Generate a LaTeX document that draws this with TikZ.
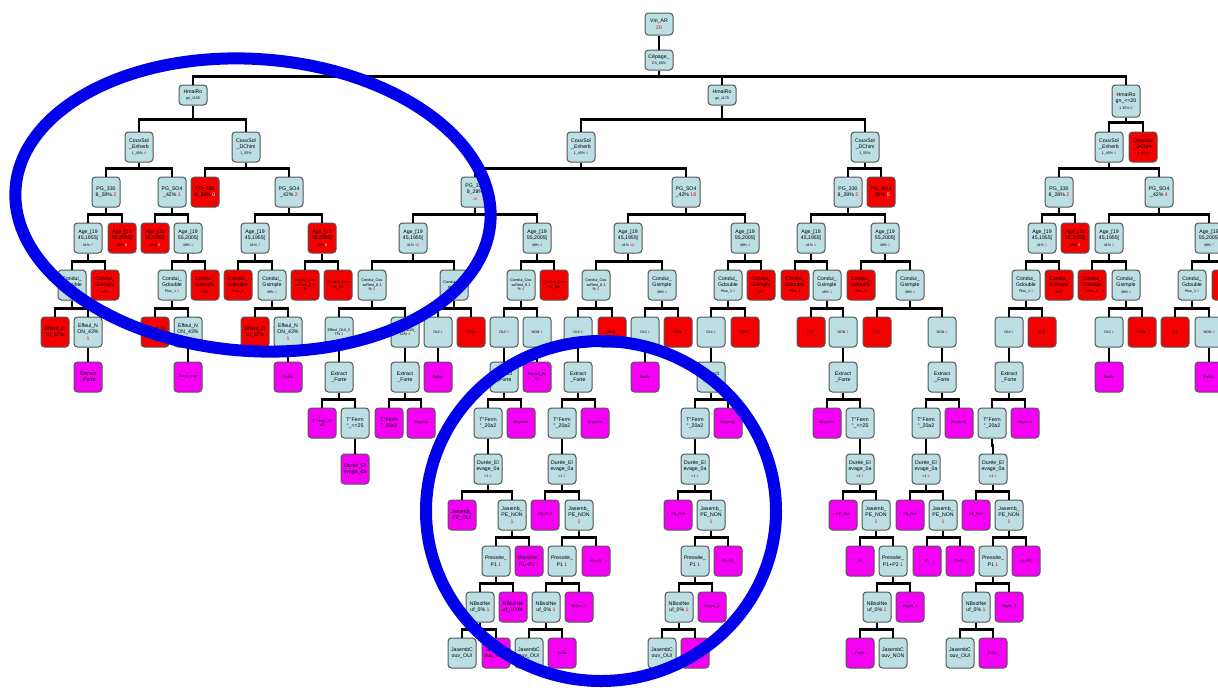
\documentclass[tikz,border=0pt]{standalone}
\usepackage{fontspec}
\setmainfont{Liberation Sans}
\definecolor{nbc}{RGB}{188,223,228}
\definecolor{nrc}{RGB}{245,0,0}
\definecolor{npc}{RGB}{245,0,245}
\definecolor{ringc}{RGB}{0,0,235}
\definecolor{bdc}{RGB}{85,85,85}
\newcommand\sm[1]{{\fontsize{3.6}{4.2}\selectfont #1}}
\newcommand\R[1]{\textcolor{red}{#1}}
\newcommand\W[1]{\textcolor{white}{#1}}
\newcommand\ly[1]{\ifcase#1 24\or 60\or 95\or 147\or 192\or 238\or 285\or 332\or 377\or 423\or 469\or 515\or 561\or 607\or 653\fi}
\newcommand\nd[4]{\node[#1] (n#2x#3) at (#3,\ly{#2}) {#4};}
\newcommand\fk[3][8]{\foreach \c in {#3}{\draw[edge] (n#2.south) |- ([yshift=#1pt]n\c.north) -- (n\c.north);}}
\newcommand\tEn{CouvSol\\\_Enherb\\\sm{1\_45\% \R{4}}}
\newcommand\tDC{CouvSol\\\_DChim\\\sm{1\_55\%}}
\newcommand\tPGa[1]{PG\_330\\8\_28\% #1}
\newcommand\tPGb[1]{PG\_SO4\\\_42\% #1}
\newcommand\tAa[1]{Age\_[19\\45,1955[\\\sm{41\% #1}}
\newcommand\tAb[1]{Age\_[19\\55,2005[\\\sm{49\% #1}}
\newcommand\tGd[1]{Condui\_\\Gdouble\\\sm{Plus\_1 #1}}
\newcommand\tGs[1]{Condui\_\\Gsimple\\\sm{48\% #1}}
\newcommand\tCR[1]{Condui\_Cou\\ssRest\_0.1\\\% #1}
\newcommand\tCt{Condui\_Cou\\rtu\_4\%}
\newcommand\tEO{Effeul\_O\\UI\_57\%}
\newcommand\tEN[1]{Effeul\_N\\ON\_43\%\\#1}
\newcommand\tO[1]{\sm{OUI #1}}
\newcommand\tN[1]{\sm{NON #1}}
\newcommand\tX{Extract\\\_Forte}
\newcommand\tF{\sm{Faible}}
\newcommand\tM{\sm{Moyenne}}
\newcommand\tTF{T°Ferm\\°\_20a2}
\newcommand\tTV{T°Ferm\\°\_<=25}
\newcommand\tD{Durée\_El\\evage\_0a\\\sm{<1 \R{1}}}
\newcommand\tJO{Jasemb\_\\PE\_OUI}
\newcommand\tJN{Jasemb\_\\PE\_NON\\\R{1}}
\newcommand\tPa{Pressée\_\\P1 \R{1}}
\newcommand\tPb{Pressée\_\\P1+P2 \R{1}}
\newcommand\tNa{NBsolNe\\uf\_0\% \R{1}}
\newcommand\tNb{NBsolNe\\uf\_100\%}
\newcommand\tCO{JasembC\\ouv\_OUI}
\newcommand\tCN{JasembC\\ouv\_NON}
\begin{document}
\begin{tikzpicture}[x=1pt,y=-1pt,
  nb/.style={draw=bdc, line width=1pt, rounded corners=3.5pt, fill=nbc,
    minimum width=28pt, minimum height=30pt, inner sep=0.3pt, align=center,
    font=\fontsize{5.2}{6.4}\selectfont},
  nr/.style={nb, fill=nrc},
  np/.style={nb, fill=npc},
  tiny/.style={font=\fontsize{3.8}{4.6}\selectfont},
  edge/.style={line width=2.6pt, black},
  ring/.style={draw=ringc, line width=12pt}]
\useasboundingbox (0,0) rectangle (1218,689);
\clip (0,0) rectangle (1218,689);
\fill[white] (0,0) rectangle (1218,689);
% levels 0-3
\nd{nb,minimum height=22pt}{0}{659}{Vin\_AR\\\R{20}}
\nd{nb,minimum height=20pt}{1}{659}{Cépage\_\\\sm{CS\_65\%}}
\nd{nb,minimum height=20pt}{2}{193}{HmaiRo\\\sm{gn\_1150}}
\nd{nb,minimum height=20pt}{2}{722}{HmaiRo\\\sm{gn\_1170}}
\node[nb,minimum height=32pt] (n2x1126) at (1126,101) {HmaiRo\\gn\_<=20\\\sm{1 35\% \R{8}}};
\nd{nb}{3}{139}{\tEn}
\nd{nb}{3}{246}{\tDC}
\nd{nb}{3}{581}{\tEn}
\nd{nb}{3}{865}{\tDC}
\nd{nb}{3}{1109}{\tEn}
\nd{nr}{3}{1143}{\tDC}
% level 4
\nd{nb}{4}{106}{\tPGa{\R{2}}}
\nd{nb}{4}{172}{\tPGb{\R{1}}}
\nd{nr}{4}{205}{\tPGa{\W{0}}}
\nd{nb}{4}{289}{\tPGb{\R{2}}}
\nd{nb}{4}{475}{\tPGa{}\\\sm{\R{19}}}
\nd{nb}{4}{686}{\tPGb{\R{18}}}
\nd{nb}{4}{848}{\tPGa{\R{2}}}
\nd{nr}{4}{881}{\tPGb{\W{0}}}
\nd{nb}{4}{1059}{\tPGa{\R{2}}}
\nd{nb}{4}{1159}{\tPGb{\R{4}}}
% level 5
\nd{nb}{5}{88}{\tAa{\R{7}}}
\nd{nr}{5}{122}{\tAb{\W{0}}}
\nd{nr}{5}{155}{\tAa{\W{0}}}
\nd{nb}{5}{188}{\tAb{\R{1}}}
\nd{nb}{5}{255}{\tAa{\R{7}}}
\nd{nr}{5}{322}{\tAb{\W{0}}}
\nd{nb}{5}{413}{\tAa{\R{15}}}
\nd{nb}{5}{537}{\tAb{\R{4}}}
\nd{nb}{5}{628}{\tAa{\R{14}}}
\nd{nb}{5}{745}{\tAb{\R{4}}}
\nd{nb}{5}{811}{\tAa{\R{1}}}
\nd{nb}{5}{885}{\tAb{\R{1}}}
\nd{nb}{5}{1042}{\tAa{\R{1}}}
\nd{nr}{5}{1075}{\tAb{\W{0}}}
\nd{nb}{5}{1109}{\tAa{\R{1}}}
\nd{nb}{5}{1209}{\tAb{\R{7}}}
% level 6
\nd{nb}{6}{72}{\tGd{\R{1}}}
\nd{nr}{6}{105}{\tGs{}}
\nd{nb}{6}{172}{\tGd{\R{1}}}
\nd{nr}{6}{205}{\tGs{}}
\nd{nr}{6}{238}{\tGd{}}
\nd{nb}{6}{272}{\tGs{\R{1}}}
\nd{nr,tiny}{6}{305}{\tCR{}}
\nd{nr,tiny}{6}{338}{\tCt}
\nd{nb,tiny}{6}{372}{\tCR{\R{3}}}
\nd{nb,tiny}{6}{454}{\tCt}
\nd{nb,tiny}{6}{521}{\tCR{\R{4}}}
\nd{nr,tiny}{6}{554}{\tCt}
\nd{nb,tiny}{6}{596}{\tCR{\R{3}}}
\nd{nb}{6}{662}{\tGs{\R{1}}}
\nd{nb}{6}{728}{\tGd{\R{1}}}
\nd{nr}{6}{761}{\tGs{}}
\nd{nr}{6}{795}{\tGd{}}
\nd{nb}{6}{827}{\tGs{\R{1}}}
\nd{nr}{6}{861}{\tGd{}}
\nd{nb}{6}{910}{\tGs{\R{1}}}
\nd{nb}{6}{1026}{\tGd{\R{1}}}
\nd{nr}{6}{1059}{\tGs{}}
\nd{nr}{6}{1092}{\tGd{}}
\nd{nb}{6}{1126}{\tGs{\R{1}}}
\nd{nb}{6}{1192}{\tGd{\R{1}}}
\nd{nr}{6}{1226}{}
% level 7
\nd{nr}{7}{55}{\tEO}
\nd{nb}{7}{88}{\tEN{\R{1}}}
\nd{nr}{7}{155}{\tEO}
\nd{nb}{7}{188}{\tEN{\R{1}}}
\nd{nr}{7}{255}{\tEO}
\nd{nb}{7}{288}{\tEN{\R{1}}}
\nd{nb,tiny}{7}{339}{Effeul\_OUI\_5\\7\% \R{3}}
\nd{nb,tiny}{7}{405}{Effeul\_NON\_\\43\% \R{4}}
\nd{nb}{7}{438}{\tO{\R{1}}}
\nd{nr}{7}{471}{\tN{}}
\nd{nb}{7}{504}{\tO{\R{3}}}
\nd{nb}{7}{537}{\tN{\R{1}}}
\nd{nb}{7}{578}{\tO{\R{3}}}
\nd{nr}{7}{612}{\tN{}}
\nd{nb}{7}{645}{\tO{\R{1}}}
\nd{nr}{7}{678}{\tN{}}
\nd{nb}{7}{711}{\tO{\R{1}}}
\nd{nr}{7}{745}{\tN{}}
\nd{nr}{7}{811}{\tO{}}
\nd{nb}{7}{843}{\tN{\R{1}}}
\nd{nr}{7}{877}{\tO{}}
\nd{nb}{7}{942}{\tN{\R{1}}}
\nd{nb}{7}{1009}{\tO{\R{1}}}
\nd{nr}{7}{1042}{\tN{}}
\nd{nb}{7}{1109}{\tO{\R{1}}}
\nd{nr}{7}{1142}{\tN{}}
\nd{nr}{7}{1175}{\tO{}}
\nd{nb}{7}{1209}{\tN{\R{2}}}
% level 8
\nd{np}{8}{88}{\tX}
\nd{np}{8}{188}{\sm{Extra\_moy}}
\nd{np}{8}{288}{\tF}
\nd{nb}{8}{339}{\tX}
\nd{nb}{8}{405}{\tX}
\nd{np}{8}{438}{\tF}
\nd{nb}{8}{504}{\tX}
\nd{np,tiny}{8}{537}{Extract\_Fo\\rte}
\nd{nb}{8}{578}{\tX}
\nd{np}{8}{645}{\tF}
\nd{nb}{8}{711}{\tX}
\nd{nb}{8}{843}{\tX}
\nd{nb}{8}{942}{\tX}
\nd{nb}{8}{1009}{\tX}
\nd{np}{8}{1109}{\tF}
\nd{np}{8}{1209}{\tF}
% level 9
\nd{np,tiny}{9}{322}{T°Ferm\_20\\a2}
\nd{nb}{9}{355}{\tTV}
\nd{np}{9}{389}{\tTF}
\nd{np}{9}{421}{\tM}
\nd{nb}{9}{488}{\tTF}
\nd{np}{9}{521}{\tM}
\nd{nb}{9}{562}{\tTF}
\nd{np}{9}{595}{\tM}
\nd{nb}{9}{695}{\tTF}
\nd{np}{9}{728}{\tM}
\nd{np}{9}{827}{\tM}
\nd{nb}{9}{860}{\tTV}
\nd{nb}{9}{926}{\tTF}
\nd{np}{9}{959}{\tM}
\nd{nb}{9}{992}{\tTF}
\nd{np}{9}{1025}{\tM}
% level 10
\nd{np}{10}{355}{Durée\_El\\evage\_0a}
\nd{nb}{10}{488}{\tD}
\nd{nb}{10}{562}{\tD}
\nd{nb}{10}{695}{\tD}
\nd{nb}{10}{860}{\tD}
\nd{nb}{10}{926}{\tD}
\nd{nb}{10}{993}{\tD}
% level 11
\nd{np}{11}{462}{\tJO}
\nd{nb}{11}{512}{\tJN}
\nd{np}{11}{545}{\sm{PE\_OUI}}
\nd{nb}{11}{579}{\tJN}
\nd{np}{11}{678}{\sm{PE\_OUI}}
\nd{nb}{11}{711}{\tJN}
\nd{np}{11}{843}{\sm{PE\_OUI}}
\nd{nb}{11}{876}{\tJN}
\nd{np}{11}{910}{\sm{PE\_OUI}}
\nd{nb}{11}{943}{\tJN}
\nd{np}{11}{976}{\sm{PE\_OUI}}
\nd{nb}{11}{1009}{\tJN}
% level 12
\nd{nb}{12}{496}{\tPa}
\nd{np}{12}{529}{\tPb}
\nd{nb}{12}{562}{\tPa}
\nd{np}{12}{596}{\sm{P1+P2}}
\nd{nb}{12}{695}{\tPa}
\nd{np}{12}{728}{\sm{P1+P2}}
\nd{np}{12}{860}{\sm{P1}}
\nd{nb}{12}{893}{\tPb}
\nd{np}{12}{927}{\sm{P1}}
\nd{np}{12}{960}{\sm{P1+P2}}
\nd{nb}{12}{993}{\tPa}
\nd{np}{12}{1026}{\sm{P1+P2}}
% level 13
\nd{nb}{13}{480}{\tNa}
\nd{np}{13}{513}{\tNb}
\nd{nb}{13}{546}{\tNa}
\nd{np}{13}{579}{\sm{Moyen\_1}}
\nd{nb}{13}{679}{\tNa}
\nd{np}{13}{712}{\sm{Moyen\_1}}
\nd{nb}{13}{877}{\tNa}
\nd{np}{13}{910}{\sm{Moyen\_1}}
\nd{nb}{13}{976}{\tNa}
\nd{np}{13}{1009}{\sm{Moyen\_1}}
% level 14
\nd{nb}{14}{462}{\tCO}
\nd{np}{14}{496}{\tCN}
\nd{nb}{14}{529}{\tCO}
\nd{np}{14}{562}{\tF}
\nd{nb}{14}{662}{\tCO}
\nd{np}{14}{695}{\tF}
\nd{np}{14}{860}{\tF}
\nd{nb}{14}{893}{\tCN}
\nd{nb}{14}{960}{\tCO}
\nd{np}{14}{993}{\tF}
% connectors
\fk{0x659}{1x659}
\fk{1x659}{2x193,2x722,2x1126}
\fk[12]{2x193}{3x139,3x246}
\fk[12]{2x722}{3x581,3x865}
\fk[9]{2x1126}{3x1109,3x1143}
\fk{3x139}{4x106,4x172}
\fk{3x246}{4x205,4x289}
\fk{3x581}{4x475,4x686}
\fk{3x865}{4x848,4x881}
\fk{3x1109}{4x1059,4x1159}
\fk{4x106}{5x88,5x122}
\fk{4x172}{5x155,5x188}
\fk{4x289}{5x255,5x322}
\fk{4x475}{5x413,5x537}
\fk{4x686}{5x628,5x745}
\fk{4x848}{5x811,5x885}
\fk{4x1059}{5x1042,5x1075}
\fk{4x1159}{5x1109,5x1209}
\fk{5x88}{6x72,6x105}
\fk{5x188}{6x172,6x205}
\fk{5x255}{6x238,6x272}
\fk{5x322}{6x305,6x338}
\fk{5x413}{6x372,6x454}
\fk{5x537}{6x521,6x554}
\fk{5x628}{6x596,6x662}
\fk{5x745}{6x728,6x761}
\fk{5x811}{6x795,6x827}
\fk{5x885}{6x861,6x910}
\fk{5x1042}{6x1026,6x1059}
\fk{5x1109}{6x1092,6x1126}
\fk{5x1209}{6x1192,6x1226}
\fk{6x72}{7x55,7x88}
\fk{6x172}{7x155,7x188}
\fk{6x272}{7x255,7x288}
\fk{6x372}{7x339,7x405}
\fk{6x454}{7x438,7x471}
\fk{6x521}{7x504,7x537}
\fk{6x596}{7x578,7x612}
\fk{6x662}{7x645,7x678}
\fk{6x728}{7x711,7x745}
\fk{6x827}{7x811,7x843}
\fk{6x910}{7x877,7x942}
\fk{6x1026}{7x1009,7x1042}
\fk{6x1126}{7x1109,7x1142}
\fk{6x1192}{7x1175,7x1209}
\fk{7x88}{8x88}
\fk{7x188}{8x188}
\fk{7x288}{8x288}
\fk{7x339}{8x339}
\fk{7x405}{8x405}
\fk{7x438}{8x438}
\fk{7x504}{8x504}
\fk{7x537}{8x537}
\fk{7x578}{8x578}
\fk{7x645}{8x645}
\fk{7x711}{8x711}
\fk{7x843}{8x843}
\fk{7x942}{8x942}
\fk{7x1009}{8x1009}
\fk{7x1109}{8x1109}
\fk{7x1209}{8x1209}
\fk{8x339}{9x322,9x355}
\fk{8x405}{9x389,9x421}
\fk{8x504}{9x488,9x521}
\fk{8x578}{9x562,9x595}
\fk{8x711}{9x695,9x728}
\fk{8x843}{9x827,9x860}
\fk{8x942}{9x926,9x959}
\fk{8x1009}{9x992,9x1025}
\fk{9x355}{10x355}
\fk{9x488}{10x488}
\fk{9x562}{10x562}
\fk{9x695}{10x695}
\fk{9x860}{10x860}
\fk{9x926}{10x926}
\fk{9x992}{10x993}
\fk{10x488}{11x462,11x512}
\fk{10x562}{11x545,11x579}
\fk{10x695}{11x678,11x711}
\fk{10x860}{11x843,11x876}
\fk{10x926}{11x910,11x943}
\fk{10x993}{11x976,11x1009}
\fk{11x512}{12x496,12x529}
\fk{11x579}{12x562,12x596}
\fk{11x711}{12x695,12x728}
\fk{11x876}{12x860,12x893}
\fk{11x943}{12x927,12x960}
\fk{11x1009}{12x993,12x1026}
\fk{12x496}{13x480,13x513}
\fk{12x562}{13x546,13x579}
\fk{12x695}{13x679,13x712}
\fk{12x893}{13x877,13x910}
\fk{12x993}{13x976,13x1009}
\fk{13x480}{14x462,14x496}
\fk{13x546}{14x529,14x562}
\fk{13x679}{14x662,14x695}
\fk{13x877}{14x860,14x893}
\fk{13x976}{14x960,14x993}
% highlight rings
\draw[ring] (253,205) ellipse [x radius=238pt, y radius=146pt, rotate=-4];
\draw[ring] (601,511) ellipse [x radius=175pt, y radius=170pt];
\end{tikzpicture}
\end{document}
